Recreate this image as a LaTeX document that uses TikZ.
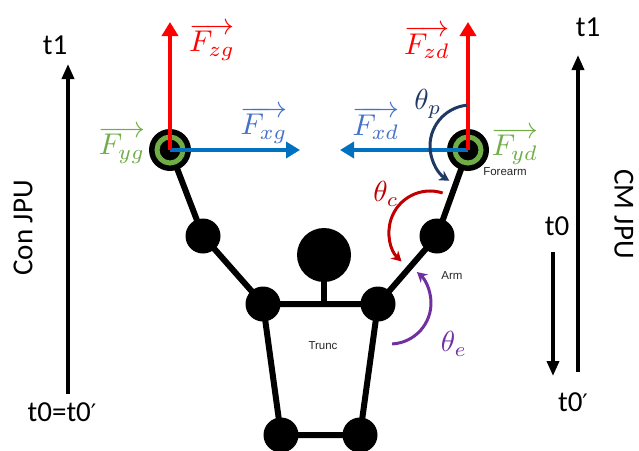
\documentclass[tikz,border=0pt]{standalone}
\usepackage{fontspec}
\setmainfont{Carlito}
\newfontfamily\partfont{Liberation Sans}
\newfontfamily\primefont{DejaVu Sans}
\usetikzlibrary{arrows.meta}

\definecolor{fzcol}{HTML}{FF0000}
\definecolor{fxcol}{HTML}{0070C0}
\definecolor{fxtxt}{HTML}{4472C4}
\definecolor{fycol}{HTML}{70AD47}
\definecolor{thpcol}{HTML}{203864}
\definecolor{thccol}{HTML}{C00000}
\definecolor{thecol}{HTML}{7030A0}

% prime mark used in the time labels
\newcommand{\tprime}{{\primefont\fontsize{24}{28}\selectfont ′}}

\begin{document}
\begin{tikzpicture}[x=1pt,y=-1pt,
  joint/.style={circle, fill=black, inner sep=0pt, minimum size=35pt},
  handjoint/.style={circle, fill=black, inner sep=0pt, minimum size=42pt},
  ring/.style={circle, draw=fycol, line width=5pt, inner sep=0pt, minimum size=26pt},
  headball/.style={circle, fill=black, inner sep=0pt, minimum size=54pt},
  limb/.style={line width=6pt},
  force/.style={line width=4pt, -{Triangle[width=16pt,length=14pt]}},
  timeline/.style={line width=3.5pt, -{Triangle[width=12pt,length=15pt]}},
  anglearc/.style={line width=3pt, -{Stealth[width=11pt,length=10pt]}},
  timelabel/.style={font=\fontsize{29}{34}\selectfont},
  vec/.style={font=\normalsize, scale=3.0, inner sep=0.5pt},
  anglelabel/.style={font=\normalsize, scale=2.9, inner sep=0.5pt},
  part/.style={font=\partfont\fontsize{11.5}{13}\selectfont, text=black!85}]
\useasboundingbox (0,0) rectangle (639,450);

% joint positions
\coordinate (plh) at (170,150);
\coordinate (prh) at (468,150);
\coordinate (ple) at (203,236);
\coordinate (pre) at (437,236);
\coordinate (pls) at (263,304);
\coordinate (prs) at (378,304);
\coordinate (plhip) at (281,435);
\coordinate (prhip) at (360,435);
\coordinate (phead) at (324,255);

% skeleton
\node[handjoint] (lh) at (plh) {};
\node[handjoint] (rh) at (prh) {};
\node[joint] (le) at (ple) {};
\node[joint] (re) at (pre) {};
\node[joint] (ls) at (pls) {};
\node[joint] (rs) at (prs) {};
\node[joint] (lhip) at (plhip) {};
\node[joint] (rhip) at (prhip) {};
\node[headball] (head) at (phead) {};
\coordinate (neck) at (324,304);

\draw[limb] (lh.center) -- (le.center) -- (ls.center) -- (rs.center) -- (re.center) -- (rh.center);
\draw[limb] (ls.center) -- (lhip.center) -- (rhip.center) -- (rs.center);
\draw[limb] (head.center) -- (neck);

% grip rings
\node[ring] (lring) at (plh) {};
\node[ring] (rring) at (prh) {};

% forces on the left hand
\coordinate (fxgtip) at (300,150);
\coordinate (fzgtip) at (170,22);
\draw[force, fxcol] (lh.center) -- (fxgtip);
\draw[force, fzcol] (lh.center) -- (fzgtip);
\node[vec, text=fzcol] (fzg) at (212,42) {$\overrightarrow{F_{zg}}$};
\node[vec, text=fxtxt] (fxg) at (264,125) {$\overrightarrow{F_{xg}}$};
\node[vec, text=fycol] (fyg) at (122,145) {$\overrightarrow{F_{yg}}$};

% forces on the right hand
\coordinate (fxdtip) at (340,150);
\coordinate (fzdtip) at (468,22);
\draw[force, fxcol] (rh.center) -- (fxdtip);
\draw[force, fzcol] (rh.center) -- (fzdtip);
\node[vec, text=fzcol] (fzd) at (427,42) {$\overrightarrow{F_{zd}}$};
\node[vec, text=fxtxt] (fxd) at (376,123) {$\overrightarrow{F_{xd}}$};
\node[vec, text=fycol] (fyd) at (515,146) {$\overrightarrow{F_{yd}}$};

% joint angles
\coordinate (cp) at (471,146);
\coordinate (cc) at (430,232);
\coordinate (ce) at (390,303);
\draw[anglearc, thpcol] ([shift={(-96:41)}]cp) arc[start angle=-96, end angle=-238, radius=41];
\draw[anglearc, thccol] ([shift={(-72:41)}]cc) arc[start angle=-72, end angle=-226, radius=41];
\draw[anglearc, thecol] ([shift={(87:41)}]ce) arc[start angle=87, end angle=-49, radius=41];
\node[anglelabel, text=thpcol] (thp) at (428,104) {$\theta_p$};
\node[anglelabel, text=thccol] (thc) at (386,194) {$\theta_c$};
\node[anglelabel, text=thecol] (the) at (454,344) {$\theta_e$};

% segment names
\node[part] (forearm) at (505,172) {Forearm};
\node[part] (arm) at (452,276) {Arm};
\node[part] (trunc) at (323,346) {Trunc};

% left time axis
\coordinate (lt0) at (68,394);
\coordinate (lt1) at (68,64);
\draw[timeline] (lt0) -- (lt1);
\node[timelabel] (lt1lab) at (55,45) {t1};
\node[timelabel] (lt0lab) at (62,412) {t0=t0\tprime};
\node[timelabel, rotate=90] (conjpu) at (23,228) {Con JPU};

% right time axis
\coordinate (rt0) at (578,372);
\coordinate (rt1) at (578,55);
\draw[timeline] (rt0) -- (rt1);
\coordinate (rs0) at (553,252);
\coordinate (rs1) at (553,376);
\draw[timeline] (rs0) -- (rs1);
\node[timelabel] (rt1lab) at (588,27) {t1};
\node[timelabel] (rt0lab) at (557,226) {t0};
\node[timelabel] (rt0plab) at (573,402) {t0\tprime};
\node[timelabel, rotate=-90] (cmjpu) at (624,214) {CM JPU};
\end{tikzpicture}
\end{document}
